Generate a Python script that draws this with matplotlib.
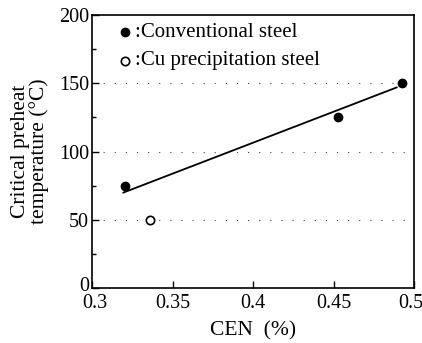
import matplotlib
matplotlib.use("Agg")
import matplotlib.pyplot as plt
from matplotlib.ticker import MultipleLocator
from matplotlib.transforms import ScaledTranslation

# Data
conv_cen = [0.3205, 0.4528, 0.4925]
conv_temp = [75, 125, 150]
cu_cen = [0.336]
cu_temp = [50]
fit_cen = [0.3195, 0.489]
fit_temp = [70, 147]

plt.rcParams['font.family'] = ['Liberation Serif', 'DejaVu Serif']

fig = plt.figure(figsize=(4.22, 3.43), dpi=100)
ax = fig.add_axes([0.218, 0.16, 0.764, 0.796])

# sparse dotted guide lines
for y in [50, 100, 150]:
    ax.axhline(y, color='#444444', lw=0.8, ls=(0, (1, 9)), zorder=0)

ax.plot(fit_cen, fit_temp, color='black', lw=1.3)
ax.plot(conv_cen, conv_temp, 'o', color='black', ms=6)
ax.plot(cu_cen, cu_temp, 'o', mfc='white', mec='black', mew=1.2, ms=6)

ax.set_xlim(0.3, 0.5)
ax.set_ylim(0, 200)
ax.set_xticks([0.3, 0.35, 0.4, 0.45, 0.5])
ax.set_xticklabels(['0.3', '0.35', '0.4', '0.45', '0.5'])
ax.set_yticks([0, 50, 100, 150, 200])
ax.yaxis.set_minor_locator(MultipleLocator(25))
ax.tick_params(direction='in', length=5, width=1, labelsize=14.5)
ax.tick_params(axis='x', pad=4)
ax.tick_params(axis='y', pad=2)
ax.tick_params(which='minor', direction='in', length=3, width=1)
for s in ax.spines.values():
    s.set_linewidth(1.2)

# keep end labels inside the figure / apart from each other
xlabels = ax.get_xticklabels()
xlabels[-1].set_transform(xlabels[-1].get_transform() + ScaledTranslation(-0.04, 0, fig.dpi_scale_trans))
xlabels[0].set_transform(xlabels[0].get_transform() + ScaledTranslation(0.03, 0, fig.dpi_scale_trans))
ylabels = ax.get_yticklabels()
ylabels[0].set_transform(ylabels[0].get_transform() + ScaledTranslation(0, 0.04, fig.dpi_scale_trans))

ax.set_xlabel('CEN  (%)', fontsize=15.5, labelpad=6)
ax.set_ylabel('Critical preheat\ntemperature (°C)', fontsize=15.5, labelpad=7,
              linespacing=0.95)

# legend drawn as text, as in the reference
ax.plot([0.3205], [187.5], 'o', color='black', ms=6, clip_on=False)
ax.plot([0.3205], [166.5], 'o', mfc='white', mec='black', mew=1.2, ms=6, clip_on=False)
ax.text(0.3265, 187.5, ':Conventional steel', fontsize=15, va='center', ha='left')
ax.text(0.3265, 166.5, ':Cu precipitation steel', fontsize=15, va='center', ha='left')

fig.savefig('out.png', dpi=100)
